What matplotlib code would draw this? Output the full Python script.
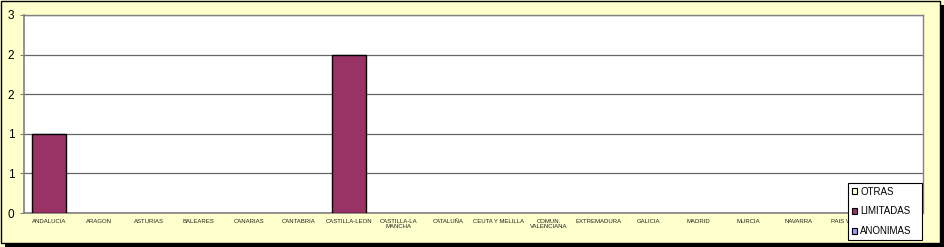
import numpy as np
import matplotlib.pyplot as plt
from matplotlib.patches import Rectangle

# datos
regiones = ["ANDALUCIA", "ARAGON", "ASTURIAS", "BALEARES", "CANARIAS", "CANTABRIA",
            "CASTILLA-LEON", "CASTILLA-LA\nMANCHA", "CATALUÑA", "CEUTA Y MELILLA",
            "COMUN.\nVALENCIANA", "EXTREMADURA", "GALICIA", "MADRID", "MURCIA",
            "NAVARRA", "PAIS VASCO", "RIOJA"]
anonimas = [0, 0, 0, 0, 0, 0, 0, 0, 0, 0, 0, 0, 0, 0, 0, 0, 0, 0]
limitadas = [1, 0, 0, 0, 0, 0, 2, 0, 0, 0, 0, 0, 0, 0, 0, 0, 0, 0]
otras = [0, 0, 0, 0, 0, 0, 0, 0, 0, 0, 0, 0, 0, 0, 0, 0, 0, 0]
y_ticks = [0, 0.5, 1, 1.5, 2, 2.5]
y_labels = ["0", "1", "1", "2", "2", "3"]

# colores
fondo = "#FFFFCC"
c_otras = "#FFFFCC"
c_limitadas = "#993366"
c_anonimas = "#9999FF"

plt.rcParams["font.family"] = ["Liberation Sans", "DejaVu Sans"]

fig = plt.figure(figsize=(9.44, 2.47), dpi=100)
fig.patch.set_facecolor(fondo)

# borde del grafico con sombra
fig.patches.append(Rectangle((5 / 944, 0 / 247), 939 / 944, 242 / 247, transform=fig.transFigure,
                             facecolor="black", edgecolor="none", zorder=-2))
fig.patches.append(Rectangle((1 / 944, 4 / 247), 939 / 944, 242 / 247, transform=fig.transFigure,
                             facecolor=fondo, edgecolor="black", linewidth=1.0, zorder=-1))

ax = fig.add_axes([24 / 944, 1 - 213 / 247, 899 / 944, 198 / 247])
ax.set_facecolor("white")

x = np.arange(len(regiones))
w = 0.68


def lw(vals):
    return [1.0 if v > 0 else 0 for v in vals]


ax.bar(x, anonimas, w, color=c_anonimas, edgecolor="black", linewidth=lw(anonimas), zorder=3)
ax.bar(x, limitadas, w, bottom=anonimas, color=c_limitadas, edgecolor="black",
       linewidth=lw(limitadas), zorder=3)
ax.bar(x, otras, w, bottom=np.add(anonimas, limitadas), color=c_otras, edgecolor="black",
       linewidth=lw(otras), zorder=3)

ax.set_xlim(-0.5, len(regiones) - 0.5)
ax.set_ylim(0, 2.5)
ax.set_yticks(y_ticks)
ax.set_yticklabels(y_labels, fontsize=8.5)
ax.set_xticks(x)
ax.set_xticklabels(regiones, fontsize=4.3, color="#222222", linespacing=1.1)
ax.tick_params(axis="x", length=0, pad=4)
ax.tick_params(axis="y", length=3, width=0.8, color="#808080", pad=4)
ax.yaxis.grid(True, color="#666666", linewidth=0.9, zorder=1)

for s in ["top", "right"]:
    ax.spines[s].set_color("#808080")
    ax.spines[s].set_linewidth(1.0)
ax.spines["left"].set_color("#808080")
ax.spines["left"].set_linewidth(1.2)
ax.spines["bottom"].set_color("#808080")
ax.spines["bottom"].set_linewidth(1.2)

# leyenda
hs = [Rectangle((0, 0), 1, 1, facecolor=c, edgecolor="black", linewidth=0.8)
      for c in [c_otras, c_limitadas, c_anonimas]]
leg = fig.legend(hs, ["OTRAS", "LIMITADAS", "ANONIMAS"], loc="lower left",
                 bbox_to_anchor=(848 / 944, 1 - 240 / 247, 74 / 944, 60 / 247),
                 mode="expand", fontsize=7, frameon=True, fancybox=False,
                 handlelength=0.55, handleheight=0.55, handletextpad=0.3,
                 borderpad=0.4, labelspacing=1.0, borderaxespad=0)
leg.get_frame().set_edgecolor("black")
leg.get_frame().set_linewidth(0.8)
leg.get_frame().set_facecolor("white")
leg.get_frame().set_alpha(1)
leg.set_zorder(10)

plt.savefig("out.png", dpi=100, facecolor=fig.get_facecolor())
